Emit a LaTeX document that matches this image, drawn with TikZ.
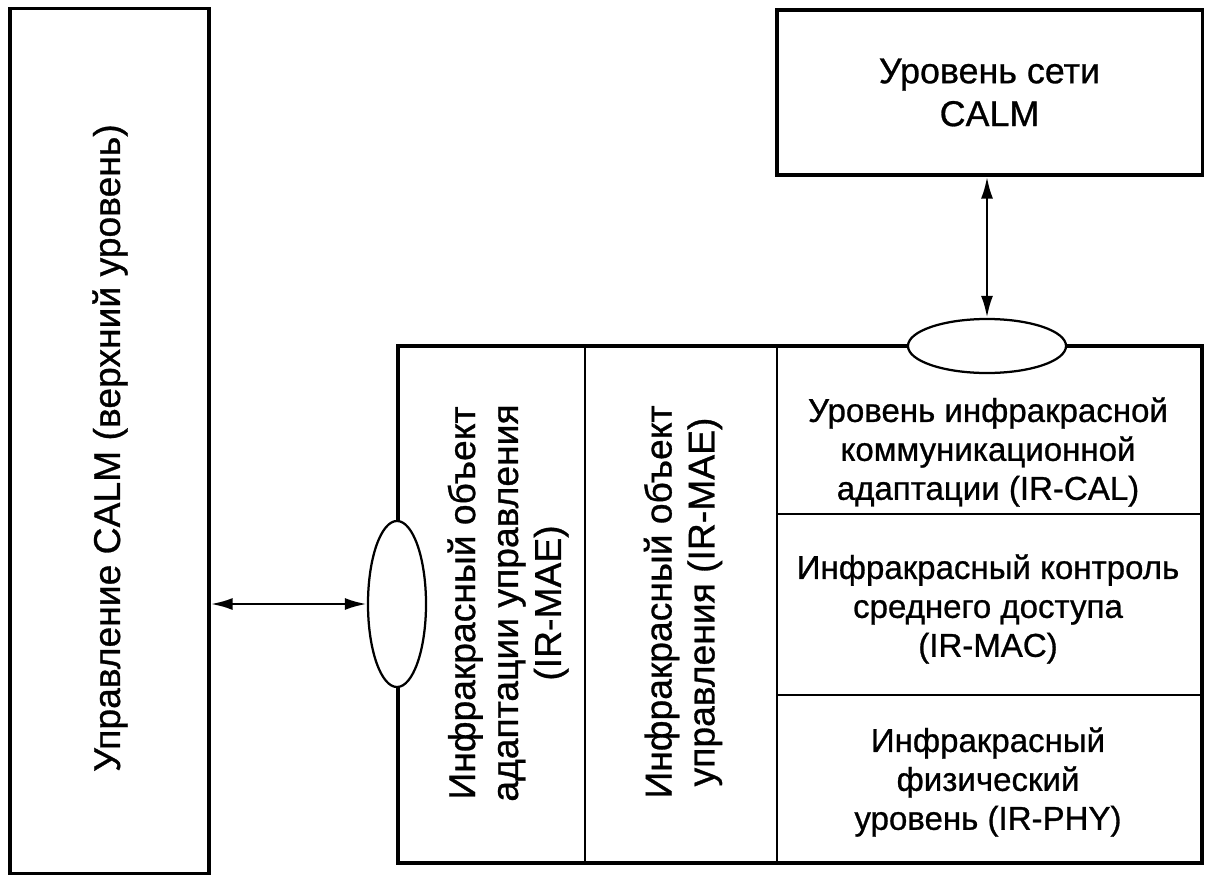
\documentclass[tikz,border=0pt]{standalone}
\usepackage{fontspec}
\setmainfont{Liberation Sans}[FakeBold=0.8,UprightFeatures={FakeBold=0.8}]
\usetikzlibrary{arrows.meta}
\usetikzlibrary{shapes.geometric}
\usetikzlibrary{positioning}
\tikzstyle{block}=[draw,line width=2.2pt,inner sep=0pt]
\tikzstyle{oval}=[draw,fill=white,ellipse,line width=1.6pt,inner sep=0pt]

\begin{document}
\begin{tikzpicture}[x=0.025cm,y=-0.025cm,line width=1.5pt]
\tikzstyle{label}=[align=center,font=\fontsize{23.5}{27.7}\selectfont]
\tikzstyle{vlabel}=[align=center,rotate=90,font=\fontsize{26.5}{30.5}\selectfont]
\useasboundingbox (0,0) rectangle (1209,880);

\node[block,minimum width=4.975cm,minimum height=21.6cm] (mgmt) at (109.5,441) {};
\node[vlabel] at (110,448) {Управление CALM (верхний уровень)};

\node[block,minimum width=10.625cm,minimum height=4.125cm] (net) at (989.5,92.5) {};
\node[label,font=\fontsize{25.5}{30.5}\selectfont] at (net) {Уровень сети\\CALM};

% lower block
\draw[block] (398,346) rectangle (1202,863);
\draw (585,346) -- (585,863);
\draw (777,346) -- (777,863);
\draw (777,514) -- (1202,514);
\draw (777,695) -- (1202,695);

\node[vlabel] (mae1) at (508,603) {Инфракрасный объект\\адаптации управления\\(IR-MAE)};
\node[vlabel] (mae2) at (683,602) {Инфракрасный объект\\управления (IR-MAE)};
\node[label] (cal) at (988,452) {Уровень инфракрасной\\коммуникационной\\адаптации (IR-CAL)};
\node[label] (mac) at (988,609) {Инфракрасный контроль\\среднего доступа\\(IR-MAC)};
\node[label] (phy) at (988,782) {Инфракрасный\\физический\\уровень (IR-PHY)};

\node[oval,minimum width=1.45cm,minimum height=4.15cm] (adapt) at (397,604) {};
\node[oval,minimum width=3.95cm,minimum height=1.35cm] (sap) at (987,346) {};

\draw[<->,>={Latex[length=5.5mm,width=3mm]},line width=2pt] (mgmt.east |- adapt.west) -- (adapt.west);
\draw[<->,>={Latex[length=5.5mm,width=3mm]},line width=2pt] (net.south -| sap.north) -- (sap.north);
\end{tikzpicture}
\end{document}
